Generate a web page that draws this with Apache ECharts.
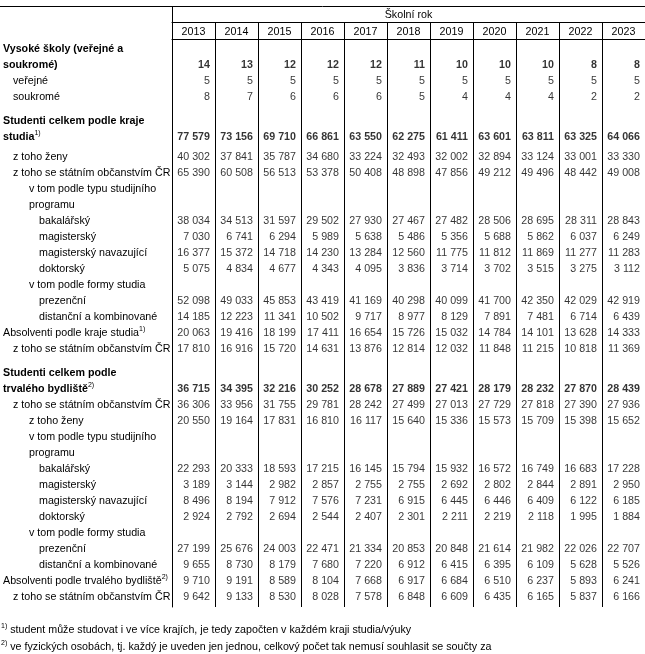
<!DOCTYPE html>
<html><head><meta charset="utf-8">
<script src="https://cdn.jsdelivr.net/npm/echarts@6/dist/echarts.min.js"></script>
<style>html,body{margin:0;padding:0;background:#fff}#c{width:645px;height:654px}</style>
</head><body><div id="c"></div>
<script>
// ---------------- DATA ----------------
const years = ['2013','2014','2015','2016','2017','2018','2019','2020','2021','2022','2023'];
const headerTitle = 'Školní rok';

const vsCelkem   = [14,13,12,12,12,11,10,10,10,8,8];
const vsVerejne  = [5,5,5,5,5,5,5,5,5,5,5];
const vsSoukrome = [8,7,6,6,6,5,4,4,4,2,2];

const kCelkem = [77579,73156,69710,66861,63550,62275,61411,63601,63811,63325,64066];
const kZeny   = [40302,37841,35787,34680,33224,32493,32002,32894,33124,33001,33330];
const kCR     = [65390,60508,56513,53378,50408,48898,47856,49212,49496,48442,49008];
const kBc     = [38034,34513,31597,29502,27930,27467,27482,28506,28695,28311,28843];
const kMgr    = [7030,6741,6294,5989,5638,5486,5356,5688,5862,6037,6249];
const kNav    = [16377,15372,14718,14230,13284,12560,11775,11812,11869,11277,11283];
const kDr     = [5075,4834,4677,4343,4095,3836,3714,3702,3515,3275,3112];
const kPrez   = [52098,49033,45853,43419,41169,40298,40099,41700,42350,42029,42919];
const kDist   = [14185,12223,11341,10502,9717,8977,8129,7891,7481,6714,6439];
const kAbs    = [20063,19416,18199,17411,16654,15726,15032,14784,14101,13628,14333];
const kAbsCR  = [17810,16916,15720,14631,13876,12814,12032,11848,11215,10818,11369];

const bCelkem = [36715,34395,32216,30252,28678,27889,27421,28179,28232,27870,28439];
const bCR     = [36306,33956,31755,29781,28242,27499,27013,27729,27818,27390,27936];
const bZeny   = [20550,19164,17831,16810,16117,15640,15336,15573,15709,15398,15652];
const bBc     = [22293,20333,18593,17215,16145,15794,15932,16572,16749,16683,17228];
const bMgr    = [3189,3144,2982,2857,2755,2755,2692,2802,2844,2891,2950];
const bNav    = [8496,8194,7912,7576,7231,6915,6445,6446,6409,6122,6185];
const bDr     = [2924,2792,2694,2544,2407,2301,2211,2219,2118,1995,1884];
const bPrez   = [27199,25676,24003,22471,21334,20853,20848,21614,21982,22026,22707];
const bDist   = [9655,8730,8179,7680,7220,6912,6415,6395,6109,5628,5526];
const bAbs    = [9710,9191,8589,8104,7668,6917,6684,6510,6237,5893,6241];
const bAbsCR  = [9642,9133,8530,8028,7578,6848,6609,6435,6165,5837,6166];

const rowLabels = [
  'Vysoké školy (veřejné a', 'soukromé)', 'veřejné', 'soukromé',
  'Studenti celkem podle kraje', 'studia^1)', 'z toho ženy', 'z toho se státním občanstvím ČR',
  'v tom podle typu studijního', 'programu', 'bakalářský', 'magisterský', 'magisterský navazující', 'doktorský',
  'v tom podle formy studia', 'prezenční', 'distanční a kombinované',
  'Absolventi podle kraje studia^1)', 'z toho se státním občanstvím ČR',
  'Studenti celkem podle', 'trvalého bydliště^2)', 'z toho se státním občanstvím ČR', 'z toho ženy',
  'v tom podle typu studijního', 'programu', 'bakalářský', 'magisterský', 'magisterský navazující', 'doktorský',
  'v tom podle formy studia', 'prezenční', 'distanční a kombinované',
  'Absolventi podle trvalého bydliště^2)', 'z toho se státním občanstvím ČR'
];
const rowValues = [
  null, vsCelkem, vsVerejne, vsSoukrome,
  null, kCelkem, kZeny, kCR,
  null, null, kBc, kMgr, kNav, kDr,
  null, kPrez, kDist,
  kAbs, kAbsCR,
  null, bCelkem, bCR, bZeny,
  null, null, bBc, bMgr, bNav, bDr,
  null, bPrez, bDist,
  bAbs, bAbsCR
];
const footnotes = [
  ['1)', 'student může studovat i ve více krajích, je tedy započten v každém kraji studia/výuky'],
  ['2)', 've fyzických osobách, tj. každý je uveden jen jednou, celkový počet tak nemusí souhlasit se součty za']
];

// ---------------- STYLE / LAYOUT ----------------
const FONT = '"Liberation Sans", Arial, sans-serif';
const FS = 10.7;
const rowIndent = [0,0,1,1, 0,0,1,1, 2,2,3,3,3,3, 2,3,3, 0,1, 0,0,1,2, 2,2,3,3,3,3, 2,3,3, 0,1];
const boldRows = new Set([0,1,4,5,19,20]);
const indentPx = [0, 10, 26, 36];
const extraSlots = {0: 2, 4: 2, 6: 1, 19: 2};
const SLOTS_PER_LINE = 4, TOTAL_SLOTS = 142;

const rowSlot = [];
let s = 0;
rowLabels.forEach((_, i) => { s += (extraSlots[i] || 0); rowSlot.push(s); s += SLOTS_PER_LINE; });
const slotRow = new Array(TOTAL_SLOTS).fill(-1);
rowSlot.forEach((sl, i) => { slotRow[sl] = i; });
const slotNames = slotRow.map((r, k) => 's' + k);

const supStyle = { fontSize: 7, lineHeight: 14, verticalAlign: 'top', fontFamily: FONT, color: '#000', fontWeight: 'normal' };
const rich = { sup: supStyle };
for (let k = 0; k < 4; k++) {
  rich['n' + k] = { fontSize: FS, lineHeight: 14, fontFamily: FONT, color: '#000', fontWeight: 'normal', padding: [0, 0, 0, indentPx[k]] };
  rich['b' + k] = { fontSize: FS, lineHeight: 14, fontFamily: FONT, color: '#000', fontWeight: 'bold', padding: [0, 0, 0, indentPx[k]] };
}

function fmtNum(v) { return String(v).replace(/\B(?=(\d{3})+(?!\d))/g, '\u00a0'); }

const seriesData = [];
rowValues.forEach((vals, r) => {
  if (!vals) return;
  vals.forEach((v, c) => {
    seriesData.push({ value: [c, rowSlot[r], v], label: { fontWeight: boldRows.has(r) ? 'bold' : 'normal' } });
  });
});

const chart = echarts.init(document.getElementById('c'));
chart.setOption({
  animation: false,
  backgroundColor: '#fff',
  textStyle: { fontFamily: FONT },
  grid: { left: 172, right: 0, top: 39, bottom: 47, containLabel: false, outerBoundsMode: 'none' },
  title: footnotes.map((f, i) => ({
    text: '{sup|' + f[0] + '}{t|' + f[1] + '}',
    left: 1, top: 623 + i * 17, padding: 0,
    textStyle: { fontWeight: 'normal', rich: { sup: supStyle,
                         t: { fontSize: FS, lineHeight: 14, fontFamily: FONT, color: '#000', fontWeight: 'normal', padding: [0,0,0,3] } } }
  })),
  graphic: [{ type: 'line', shape: { x1: 0, y1: 6.5, x2: 645, y2: 6.5 }, style: { stroke: '#000', lineWidth: 1 } }],
  xAxis: [
    {
      type: 'category', data: years, position: 'top', boundaryGap: true,
      axisLine: { show: true, lineStyle: { color: '#000', width: 1 } },
      axisTick: { show: true, length: 17, lineStyle: { color: '#000', width: 1 } },
      axisLabel: { margin: 7, verticalAlign: 'middle', color: '#000', fontSize: FS, fontFamily: FONT, interval: 0 },
      splitLine: { show: true, lineStyle: { color: '#000', width: 1 } }
    },
    {
      type: 'category', data: [headerTitle], position: 'top', offset: 17, boundaryGap: true,
      axisLine: { show: true, lineStyle: { color: '#000', width: 1 } },
      axisTick: { show: true, length: 16, lineStyle: { color: '#000', width: 1 } },
      axisLabel: { margin: 7, verticalAlign: 'middle', color: '#000', fontSize: FS, fontFamily: FONT },
      splitLine: { show: false }
    }
  ],
  yAxis: {
    type: 'category', data: slotNames, inverse: true, boundaryGap: true,
    axisLine: { show: true, lineStyle: { color: '#000', width: 1 } },
    axisTick: { show: false },
    splitLine: { show: false },
    axisLabel: {
      interval: 0, align: 'left', margin: 169, verticalAlign: 'middle',
      formatter: function (val, idx) {
        const r = slotRow[idx];
        if (r < 0) return '';
        const parts = rowLabels[r].split('^');
        const st = (boldRows.has(r) ? 'b' : 'n') + rowIndent[r];
        let out = '{' + st + '|' + parts[0] + '}';
        if (parts[1]) out += '{sup|' + parts[1] + '}';
        return out;
      },
      rich: rich
    }
  },
  series: [{
    type: 'scatter', xAxisIndex: 0, yAxisIndex: 0,
    symbol: 'rect', symbolSize: 1, itemStyle: { color: 'rgba(0,0,0,0)' },
    data: seriesData,
    label: {
      show: true, position: 'inside', align: 'right', verticalAlign: 'middle', offset: [16.5, 0],
      color: '#000', fontSize: FS, fontFamily: FONT,
      formatter: p => fmtNum(p.value[2])
    },
    emphasis: { disabled: true },
    silent: true
  }]
});
</script>
</body></html>
